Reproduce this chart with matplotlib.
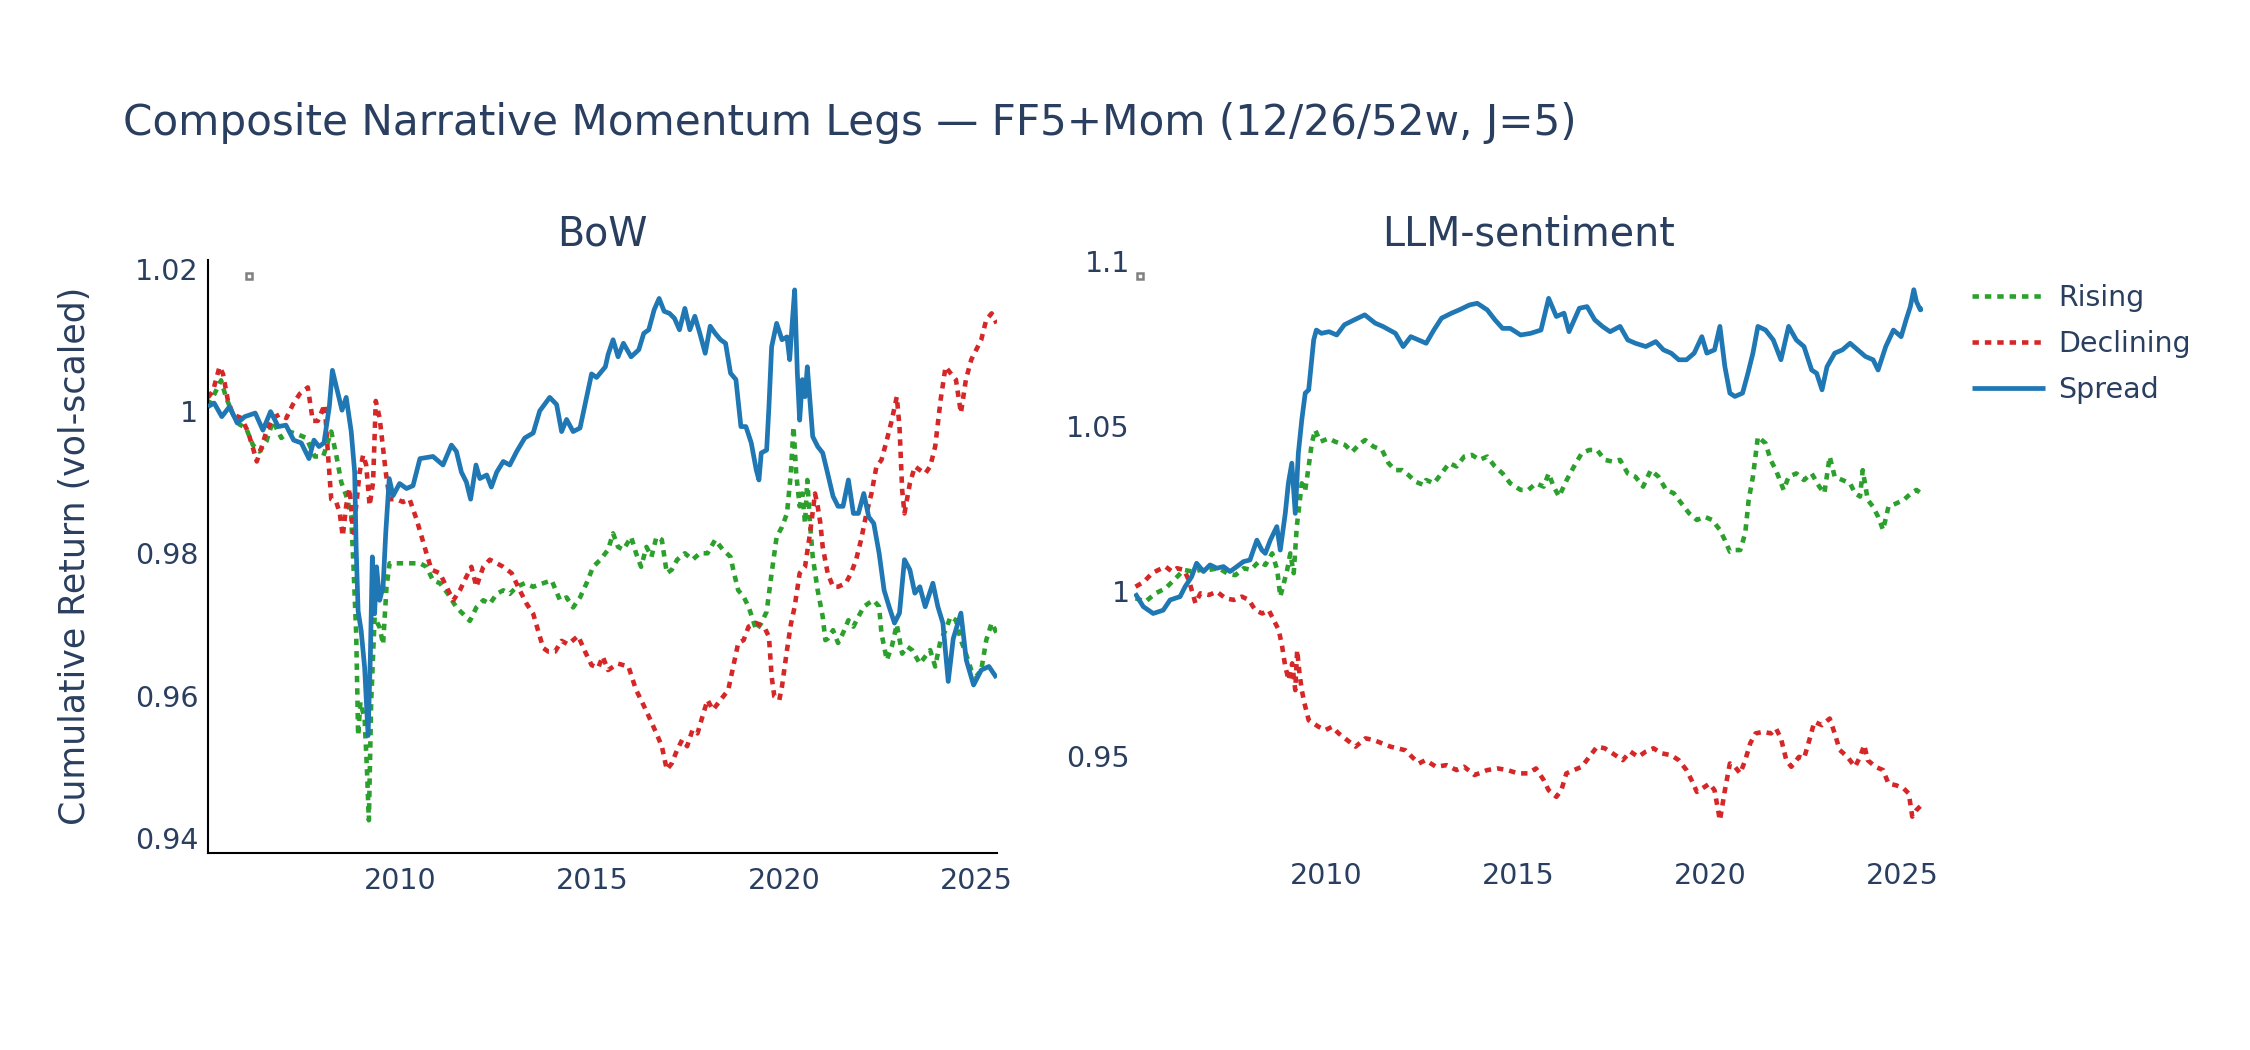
import matplotlib
matplotlib.use("Agg")
import matplotlib.pyplot as plt

# ---------------- data (decimal year, cumulative return) ----------------
bow_rising = [(2005.00,1.0007),(2005.17,1.0024),(2005.34,1.0043),(2005.47,1.0019),(2005.65,0.9995),(2005.82,0.9981),(2005.99,0.9976),(2006.17,0.9952),(2006.34,0.9943),(2006.52,0.9957),(2006.69,0.9986),(2006.91,0.9962),(2007.12,0.9971),(2007.34,0.9967),(2007.56,0.9962),(2007.78,0.9936),(2008.00,0.9936),(2008.21,0.9971),(2008.34,0.9938),(2008.47,0.9900),(2008.60,0.9881),(2008.73,0.9853),(2008.79,0.9781),(2008.86,0.9686),(2008.91,0.9544),(2008.97,0.9591),(2009.08,0.9567),(2009.14,0.9496),(2009.19,0.9425),(2009.25,0.9591),(2009.34,0.9710),(2009.47,0.9696),(2009.56,0.9672),(2009.65,0.9753),(2009.73,0.9786),(2009.99,0.9786),(2010.25,0.9786),(2010.52,0.9786),(2010.69,0.9781),(2010.86,0.9762),(2011.04,0.9758),(2011.25,0.9743),(2011.47,0.9724),(2011.64,0.9715),(2011.82,0.9705),(2011.99,0.9724),(2012.17,0.9734),(2012.34,0.9729),(2012.52,0.9743),(2012.69,0.9748),(2012.86,0.9743),(2013.04,0.9753),(2013.25,0.9758),(2013.47,0.9753),(2013.73,0.9758),(2013.95,0.9762),(2014.17,0.9734),(2014.34,0.9738),(2014.51,0.9724),(2014.69,0.9738),(2014.86,0.9758),(2015.03,0.9781),(2015.22,0.9791),(2015.42,0.9805),(2015.55,0.9828),(2015.68,0.9809),(2015.82,0.9805),(2016.02,0.9823),(2016.15,0.9800),(2016.28,0.9781),(2016.42,0.9809),(2016.55,0.9795),(2016.68,0.9823),(2016.82,0.9819),(2016.95,0.9772),(2017.08,0.9777),(2017.22,0.9791),(2017.42,0.9800),(2017.62,0.9791),(2017.81,0.9800),(2018.01,0.9800),(2018.21,0.9819),(2018.41,0.9805),(2018.61,0.9795),(2018.68,0.9777),(2018.81,0.9748),(2018.95,0.9739),(2019.08,0.9725),(2019.28,0.9692),(2019.41,0.9702),(2019.55,0.9718),(2019.68,0.9772),(2019.81,0.9823),(2019.95,0.9837),(2020.08,0.9856),(2020.18,0.9912),(2020.25,0.9978),(2020.32,0.9912),(2020.41,0.9866),(2020.48,0.9884),(2020.55,0.9842),(2020.61,0.9903),(2020.68,0.9842),(2020.75,0.9795),(2020.88,0.9748),(2021.01,0.9711),(2021.08,0.9678),(2021.14,0.9680),(2021.28,0.9692),(2021.41,0.9674),(2021.54,0.9688),(2021.68,0.9706),(2021.81,0.9697),(2021.94,0.9711),(2022.08,0.9725),(2022.21,0.9730),(2022.34,0.9734),(2022.48,0.9725),(2022.54,0.9688),(2022.68,0.9650),(2022.81,0.9669),(2022.94,0.9700),(2023.08,0.9659),(2023.21,0.9669),(2023.34,0.9664),(2023.54,0.9645),(2023.68,0.9655),(2023.81,0.9664),(2023.94,0.9641),(2024.08,0.9678),(2024.21,0.9692),(2024.34,0.9711),(2024.48,0.9706),(2024.61,0.9678),(2024.74,0.9659),(2024.88,0.9636),(2025.01,0.9627),(2025.14,0.9636),(2025.27,0.9678),(2025.41,0.9702),(2025.54,0.9688)]

bow_declining = [(2005.00,1.0019),(2005.13,1.0028),(2005.30,1.0062),(2005.39,1.0052),(2005.52,1.0014),(2005.65,0.9995),(2005.87,0.9990),(2006.04,0.9971),(2006.17,0.9948),(2006.27,0.9929),(2006.39,0.9948),(2006.52,0.9971),(2006.69,0.9990),(2006.86,0.9995),(2007.04,0.9990),(2007.21,1.0009),(2007.39,1.0024),(2007.60,1.0033),(2007.73,0.9986),(2007.86,0.9986),(2008.04,1.0009),(2008.12,0.9943),(2008.21,0.9876),(2008.34,0.9872),(2008.43,0.9857),(2008.51,0.9824),(2008.60,0.9867),(2008.69,0.9891),(2008.78,0.9829),(2008.86,0.9867),(2008.95,0.9914),(2009.04,0.9938),(2009.12,0.9924),(2009.21,0.9867),(2009.30,0.9900),(2009.37,1.0014),(2009.47,0.9990),(2009.54,0.9957),(2009.63,0.9914),(2009.73,0.9876),(2009.91,0.9876),(2010.08,0.9872),(2010.25,0.9876),(2010.43,0.9848),(2010.56,0.9824),(2010.69,0.9800),(2010.82,0.9777),(2011.04,0.9772),(2011.21,0.9753),(2011.39,0.9734),(2011.56,0.9748),(2011.73,0.9767),(2011.86,0.9781),(2011.99,0.9753),(2012.17,0.9781),(2012.34,0.9791),(2012.52,0.9786),(2012.69,0.9781),(2012.91,0.9772),(2013.12,0.9748),(2013.30,0.9729),(2013.47,0.9715),(2013.60,0.9691),(2013.73,0.9667),(2013.86,0.9662),(2014.04,0.9662),(2014.21,0.9677),(2014.38,0.9672),(2014.64,0.9684),(2014.82,0.9662),(2014.99,0.9643),(2015.16,0.9639),(2015.28,0.9655),(2015.42,0.9636),(2015.68,0.9645),(2015.95,0.9641),(2016.15,0.9608),(2016.28,0.9594),(2016.48,0.9571),(2016.68,0.9547),(2016.82,0.9529),(2016.95,0.9496),(2017.08,0.9505),(2017.22,0.9524),(2017.35,0.9538),(2017.48,0.9529),(2017.62,0.9552),(2017.75,0.9547),(2017.88,0.9571),(2018.01,0.9594),(2018.15,0.9580),(2018.35,0.9594),(2018.55,0.9608),(2018.68,0.9641),(2018.81,0.9674),(2018.95,0.9678),(2019.08,0.9697),(2019.28,0.9702),(2019.48,0.9697),(2019.61,0.9683),(2019.68,0.9627),(2019.75,0.9599),(2019.88,0.9594),(2019.95,0.9613),(2020.08,0.9664),(2020.18,0.9700),(2020.28,0.9725),(2020.41,0.9772),(2020.55,0.9781),(2020.68,0.9828),(2020.81,0.9884),(2020.88,0.9866),(2020.95,0.9842),(2021.01,0.9809),(2021.14,0.9772),(2021.28,0.9753),(2021.41,0.9753),(2021.61,0.9758),(2021.75,0.9772),(2021.88,0.9791),(2022.01,0.9819),(2022.15,0.9856),(2022.28,0.9884),(2022.41,0.9922),(2022.54,0.9931),(2022.68,0.9959),(2022.81,0.9987),(2022.94,1.0020),(2023.01,0.9978),(2023.08,0.9889),(2023.14,0.9856),(2023.28,0.9898),(2023.41,0.9922),(2023.54,0.9917),(2023.68,0.9912),(2023.81,0.9922),(2023.94,0.9950),(2024.08,1.0015),(2024.21,1.0062),(2024.34,1.0053),(2024.48,1.0044),(2024.61,0.9997),(2024.74,1.0044),(2024.88,1.0072),(2025.01,1.0086),(2025.14,1.0100),(2025.27,1.0128),(2025.41,1.0137),(2025.54,1.0123)]

bow_spread = [(2005.00,1.0006),(2005.16,1.0011),(2005.36,0.9992),(2005.56,1.0006),(2005.76,0.9983),(2005.96,0.9992),(2006.23,0.9997),(2006.43,0.9973),(2006.63,0.9999),(2006.83,0.9978),(2007.03,0.9980),(2007.23,0.9959),(2007.43,0.9955),(2007.63,0.9933),(2007.76,0.9959),(2007.89,0.9950),(2008.02,0.9955),(2008.16,1.0006),(2008.24,1.0057),(2008.36,1.0030),(2008.49,1.0001),(2008.60,1.0019),(2008.73,0.9971),(2008.82,0.9914),(2008.86,0.9805),(2008.91,0.9719),(2008.99,0.9691),(2009.08,0.9639),(2009.17,0.9544),(2009.23,0.9658),(2009.28,0.9795),(2009.34,0.9715),(2009.39,0.9781),(2009.47,0.9734),(2009.56,0.9753),(2009.63,0.9829),(2009.72,0.9905),(2009.82,0.9881),(2009.99,0.9898),(2010.17,0.9891),(2010.34,0.9895),(2010.52,0.9933),(2010.86,0.9936),(2011.12,0.9924),(2011.34,0.9952),(2011.47,0.9943),(2011.60,0.9914),(2011.73,0.9900),(2011.84,0.9876),(2011.98,0.9924),(2012.08,0.9905),(2012.26,0.9910),(2012.38,0.9893),(2012.52,0.9914),(2012.69,0.9929),(2012.86,0.9924),(2013.04,0.9943),(2013.25,0.9962),(2013.47,0.9969),(2013.64,1.0000),(2013.90,1.0019),(2014.08,1.0009),(2014.21,0.9971),(2014.34,0.9988),(2014.51,0.9971),(2014.69,0.9976),(2014.86,1.0019),(2014.99,1.0052),(2015.12,1.0047),(2015.35,1.0062),(2015.42,1.0079),(2015.55,1.0100),(2015.68,1.0076),(2015.82,1.0095),(2016.02,1.0076),(2016.22,1.0086),(2016.35,1.0109),(2016.48,1.0114),(2016.62,1.0142),(2016.75,1.0158),(2016.88,1.0140),(2017.02,1.0137),(2017.15,1.0130),(2017.28,1.0114),(2017.42,1.0144),(2017.55,1.0114),(2017.68,1.0133),(2017.81,1.0109),(2017.95,1.0081),(2018.08,1.0119),(2018.21,1.0109),(2018.35,1.0100),(2018.48,1.0095),(2018.61,1.0053),(2018.75,1.0044),(2018.88,0.9978),(2019.01,0.9978),(2019.15,0.9955),(2019.28,0.9917),(2019.35,0.9903),(2019.41,0.9941),(2019.55,0.9945),(2019.61,1.0006),(2019.68,1.0090),(2019.81,1.0123),(2019.95,1.0100),(2020.08,1.0104),(2020.15,1.0072),(2020.21,1.0119),(2020.28,1.0170),(2020.35,1.0053),(2020.41,0.9987),(2020.48,1.0044),(2020.55,1.0020),(2020.61,1.0062),(2020.75,0.9964),(2020.88,0.9950),(2021.01,0.9941),(2021.14,0.9912),(2021.28,0.9880),(2021.41,0.9866),(2021.54,0.9866),(2021.68,0.9903),(2021.81,0.9856),(2021.94,0.9856),(2022.08,0.9884),(2022.21,0.9851),(2022.34,0.9842),(2022.48,0.9800),(2022.61,0.9748),(2022.74,0.9725),(2022.88,0.9702),(2023.01,0.9716),(2023.14,0.9791),(2023.28,0.9777),(2023.41,0.9744),(2023.54,0.9753),(2023.68,0.9725),(2023.88,0.9758),(2024.01,0.9725),(2024.14,0.9702),(2024.28,0.9620),(2024.41,0.9680),(2024.61,0.9716),(2024.75,0.9650),(2024.94,0.9615),(2025.14,0.9636),(2025.34,0.9641),(2025.54,0.9625)]

llm_rising = [(2005.04,0.9978),(2005.30,0.9968),(2005.56,0.9993),(2005.82,1.0008),(2006.08,1.0038),(2006.30,1.0064),(2006.52,1.0059),(2006.74,1.0064),(2006.95,1.0064),(2007.21,1.0069),(2007.42,1.0054),(2007.64,1.0048),(2007.86,1.0069),(2008.04,1.0064),(2008.25,1.0089),(2008.42,1.0079),(2008.60,1.0114),(2008.73,1.0064),(2008.81,0.9983),(2008.90,1.0023),(2008.99,1.0064),(2009.07,1.0114),(2009.16,1.0054),(2009.24,1.0195),(2009.30,1.0255),(2009.37,1.0326),(2009.46,1.0306),(2009.55,1.0377),(2009.63,1.0447),(2009.72,1.0488),(2009.85,1.0452),(2010.07,1.0462),(2010.24,1.0452),(2010.50,1.0442),(2010.68,1.0421),(2010.85,1.0442),(2011.02,1.0457),(2011.24,1.0437),(2011.46,1.0427),(2011.63,1.0387),(2011.80,1.0366),(2011.98,1.0366),(2012.15,1.0351),(2012.33,1.0331),(2012.54,1.0321),(2012.61,1.0336),(2012.81,1.0326),(2013.01,1.0356),(2013.21,1.0387),(2013.40,1.0377),(2013.60,1.0407),(2013.80,1.0412),(2014.00,1.0397),(2014.20,1.0407),(2014.40,1.0377),(2014.60,1.0356),(2014.80,1.0326),(2015.07,1.0306),(2015.27,1.0306),(2015.47,1.0326),(2015.67,1.0316),(2015.80,1.0356),(2015.93,1.0316),(2016.07,1.0286),(2016.27,1.0336),(2016.46,1.0377),(2016.66,1.0417),(2016.86,1.0427),(2017.06,1.0427),(2017.26,1.0397),(2017.46,1.0392),(2017.66,1.0397),(2017.86,1.0356),(2018.06,1.0346),(2018.26,1.0316),(2018.46,1.0366),(2018.66,1.0346),(2018.86,1.0306),(2019.06,1.0296),(2019.26,1.0265),(2019.46,1.0235),(2019.66,1.0215),(2019.86,1.0225),(2020.06,1.0215),(2020.26,1.0185),(2020.39,1.0154),(2020.52,1.0119),(2020.65,1.0124),(2020.79,1.0124),(2020.92,1.0175),(2021.01,1.0276),(2021.12,1.0346),(2021.25,1.0467),(2021.45,1.0447),(2021.58,1.0397),(2021.72,1.0366),(2021.92,1.0306),(2022.05,1.0346),(2022.25,1.0356),(2022.45,1.0336),(2022.65,1.0356),(2022.85,1.0316),(2022.98,1.0296),(2023.12,1.0407),(2023.25,1.0346),(2023.45,1.0336),(2023.65,1.0326),(2023.78,1.0296),(2023.91,1.0286),(2023.98,1.0366),(2024.11,1.0276),(2024.25,1.0255),(2024.38,1.0225),(2024.51,1.0185),(2024.65,1.0255),(2024.85,1.0265),(2025.05,1.0276),(2025.24,1.0296),(2025.38,1.0306),(2025.55,1.0291)]

llm_declining = [(2005.04,1.0013),(2005.26,1.0028),(2005.47,1.0054),(2005.64,1.0064),(2005.82,1.0074),(2005.99,1.0059),(2006.12,1.0069),(2006.30,1.0064),(2006.43,1.0033),(2006.60,0.9963),(2006.73,0.9993),(2006.95,0.9988),(2007.16,0.9998),(2007.38,0.9978),(2007.60,0.9973),(2007.81,0.9983),(2007.99,0.9973),(2008.16,0.9942),(2008.34,0.9932),(2008.51,0.9942),(2008.64,0.9912),(2008.77,0.9882),(2008.86,0.9831),(2008.94,0.9771),(2009.03,0.9730),(2009.12,0.9781),(2009.20,0.9700),(2009.25,0.9821),(2009.31,0.9751),(2009.37,0.9700),(2009.44,0.9660),(2009.55,0.9609),(2009.68,0.9599),(2009.81,0.9589),(2009.98,0.9579),(2010.16,0.9589),(2010.33,0.9569),(2010.55,0.9549),(2010.77,0.9529),(2011.03,0.9554),(2011.24,0.9549),(2011.46,0.9539),(2011.68,0.9529),(2011.85,0.9524),(2012.07,0.9518),(2012.24,0.9498),(2012.42,0.9478),(2012.59,0.9488),(2012.87,0.9468),(2013.14,0.9473),(2013.40,0.9458),(2013.60,0.9468),(2013.87,0.9443),(2014.20,0.9458),(2014.47,0.9463),(2014.73,0.9458),(2015.00,0.9448),(2015.27,0.9448),(2015.47,0.9463),(2015.67,0.9428),(2015.80,0.9397),(2016.00,0.9377),(2016.13,0.9397),(2016.26,0.9448),(2016.46,0.9458),(2016.66,0.9468),(2016.86,0.9498),(2017.06,0.9529),(2017.26,0.9524),(2017.46,0.9509),(2017.73,0.9488),(2017.93,0.9514),(2018.13,0.9498),(2018.33,0.9514),(2018.53,0.9524),(2018.73,0.9509),(2018.99,0.9503),(2019.19,0.9488),(2019.39,0.9458),(2019.52,0.9428),(2019.66,0.9392),(2019.86,0.9407),(2019.99,0.9417),(2020.12,0.9397),(2020.26,0.9306),(2020.39,0.9397),(2020.52,0.9478),(2020.65,0.9468),(2020.79,0.9448),(2020.92,0.9488),(2021.05,0.9539),(2021.19,0.9569),(2021.39,0.9574),(2021.59,0.9569),(2021.72,0.9584),(2021.85,0.9554),(2021.99,0.9488),(2022.12,0.9468),(2022.32,0.9498),(2022.45,0.9493),(2022.59,0.9549),(2022.72,0.9604),(2022.92,0.9594),(2023.12,0.9614),(2023.25,0.9569),(2023.38,0.9519),(2023.58,0.9498),(2023.78,0.9468),(2023.91,0.9498),(2024.02,0.9534),(2024.11,0.9488),(2024.31,0.9468),(2024.51,0.9458),(2024.65,0.9417),(2024.85,0.9412),(2025.05,0.9402),(2025.18,0.9387),(2025.27,0.9317),(2025.38,0.9337),(2025.55,0.9357)]

llm_spread = [(2005.03,0.9993),(2005.24,0.9953),(2005.50,0.9932),(2005.76,0.9942),(2005.94,0.9973),(2006.20,0.9983),(2006.33,1.0013),(2006.50,1.0043),(2006.63,1.0084),(2006.81,1.0059),(2006.98,1.0079),(2007.16,1.0069),(2007.33,1.0074),(2007.50,1.0059),(2007.68,1.0074),(2007.85,1.0089),(2008.02,1.0094),(2008.20,1.0154),(2008.33,1.0124),(2008.42,1.0114),(2008.55,1.0154),(2008.72,1.0195),(2008.81,1.0124),(2008.94,1.0235),(2009.02,1.0326),(2009.11,1.0387),(2009.20,1.0235),(2009.28,1.0417),(2009.37,1.0518),(2009.46,1.0599),(2009.55,1.0609),(2009.68,1.0760),(2009.75,1.0790),(2009.88,1.0780),(2010.08,1.0785),(2010.28,1.0775),(2010.48,1.0806),(2010.74,1.0821),(2011.01,1.0836),(2011.28,1.0811),(2011.48,1.0801),(2011.81,1.0780),(2012.01,1.0740),(2012.21,1.0770),(2012.41,1.0760),(2012.61,1.0750),(2012.81,1.0790),(2013.01,1.0826),(2013.27,1.0841),(2013.47,1.0851),(2013.74,1.0866),(2013.94,1.0871),(2014.20,1.0851),(2014.40,1.0821),(2014.60,1.0795),(2014.80,1.0795),(2015.07,1.0775),(2015.33,1.0780),(2015.60,1.0790),(2015.80,1.0886),(2016.00,1.0831),(2016.20,1.0841),(2016.33,1.0785),(2016.60,1.0856),(2016.80,1.0861),(2017.00,1.0821),(2017.20,1.0801),(2017.40,1.0785),(2017.66,1.0801),(2017.86,1.0760),(2018.06,1.0750),(2018.33,1.0740),(2018.59,1.0755),(2018.79,1.0730),(2018.99,1.0720),(2019.19,1.0700),(2019.39,1.0700),(2019.59,1.0720),(2019.79,1.0770),(2019.92,1.0720),(2020.12,1.0730),(2020.26,1.0801),(2020.39,1.0679),(2020.52,1.0599),(2020.65,1.0589),(2020.85,1.0599),(2020.99,1.0659),(2021.12,1.0720),(2021.25,1.0801),(2021.45,1.0790),(2021.65,1.0760),(2021.85,1.0700),(2022.05,1.0801),(2022.25,1.0760),(2022.45,1.0740),(2022.65,1.0669),(2022.78,1.0659),(2022.92,1.0609),(2023.05,1.0679),(2023.25,1.0720),(2023.45,1.0730),(2023.65,1.0750),(2023.85,1.0730),(2024.05,1.0710),(2024.25,1.0700),(2024.38,1.0669),(2024.58,1.0740),(2024.78,1.0790),(2024.98,1.0770),(2025.11,1.0821),(2025.22,1.0861),(2025.31,1.0912),(2025.38,1.0876),(2025.48,1.0851),(2025.55,1.0856)]

series_names = ["Rising", "Declining", "Spread"]
panel_titles = ["BoW", "LLM-sentiment"]
x_ticks = [2010, 2015, 2020, 2025]
x_tick_labels = ["2010", "2015", "2020", "2025"]
bow_y_ticks = [0.94, 0.96, 0.98, 1.0, 1.02]
bow_y_labels = ["0.94", "0.96", "0.98", "1", "1.02"]
llm_y_ticks = [0.95, 1.0, 1.05, 1.1]
llm_y_labels = ["0.95", "1", "1.05", "1.1"]
title_text = "Composite Narrative Momentum Legs \u2014 FF5+Mom (12/26/52w, J=5)"
y_title = "Cumulative Return (vol-scaled)"

# ---------------- style ----------------
plt.rcParams['font.family'] = ['DejaVu Sans']
TXT = '#2a3f5f'
COLORS = {"Rising": '#2ca02c', "Declining": '#d62728', "Spread": '#1f77b4'}
W, H = 2250, 1050
fig = plt.figure(figsize=(W / 100, H / 100), dpi=100)
fig.patch.set_facecolor('white')

def frac_box(x0, x1, ytop, ybot):
    return [x0 / W, 1 - ybot / H, (x1 - x0) / W, (ybot - ytop) / H]

ax_l = fig.add_axes(frac_box(208, 997, 260, 853))
ax_r = fig.add_axes(frac_box(1134, 1923, 260, 853))

panels = [
    (ax_l, [bow_rising, bow_declining, bow_spread], (0.9379, 1.0212), bow_y_ticks, bow_y_labels, True),
    (ax_r, [llm_rising, llm_declining, llm_spread], (0.9207, 1.1002), llm_y_ticks, llm_y_labels, False),
]

handles = []
for ax, data, ylim, yt, yl, lines_on in panels:
    for name, ser in zip(series_names, data):
        xs = [p[0] for p in ser]
        ys = [p[1] for p in ser]
        if name == "Spread":
            h, = ax.plot(xs, ys, color=COLORS[name], lw=3.4, solid_joinstyle='round',
                         solid_capstyle='butt', zorder=3, label=name)
        else:
            h, = ax.plot(xs, ys, color=COLORS[name], lw=3.3, dashes=(1.4, 1.3),
                         dash_joinstyle='round', zorder=2, label=name)
        if ax is ax_l:
            handles.append(h)
    ax.set_xlim(2005.0, 2025.55)
    ax.set_ylim(*ylim)
    ax.set_xticks(x_ticks)
    ax.set_xticklabels(x_tick_labels)
    ax.set_yticks(yt)
    ax.set_yticklabels(yl)
    ax.tick_params(length=0, labelsize=20.5, labelcolor=TXT)
    for s in ['top', 'right']:
        ax.spines[s].set_visible(False)
    if lines_on:
        for s in ['left', 'bottom']:
            ax.spines[s].set_color('black')
            ax.spines[s].set_linewidth(1.5)
        ax.tick_params(axis='y', pad=7)
        ax.tick_params(axis='x', pad=10)
    else:
        for s in ['left', 'bottom']:
            ax.spines[s].set_visible(False)
        ax.tick_params(axis='y', pad=3)
        ax.tick_params(axis='x', pad=6.5)
    ax.set_facecolor('white')

# small grey boxes near the top-left of each panel
ax_l.plot([0.052], [0.973], marker='s', ms=5, mew=1.8, mec='#808080', mfc='white',
          transform=ax_l.transAxes, clip_on=False, zorder=5)
ax_r.plot([0.0076], [0.973], marker='s', ms=5, mew=1.8, mec='#808080', mfc='white',
          transform=ax_r.transAxes, clip_on=False, zorder=5)

# panel titles
for ax, t in zip([ax_l, ax_r], panel_titles):
    ax.text(0.5, 1 + 14 / 593, t, transform=ax.transAxes, ha='center', va='baseline',
            fontsize=28.5, color=TXT)

# main title
fig.text(123 / W, 1 - 135 / H, title_text, ha='left', va='baseline', fontsize=30.3, color=TXT)

# y axis title
fig.text(74.6 / W, 1 - 556 / H, y_title, rotation=90, ha='center', va='center',
         fontsize=25, color=TXT)

# legend
leg = fig.legend(handles=handles, labels=series_names, loc='upper left',
                 bbox_to_anchor=(1971.7 / W, 1 - 284 / H), frameon=False,
                 fontsize=20.5, handlelength=2.57, handletextpad=0.46, labelspacing=0.64,
                 borderpad=0, borderaxespad=0)
for t in leg.get_texts():
    t.set_color(TXT)

fig.savefig('out.png', dpi=100, facecolor='white')
